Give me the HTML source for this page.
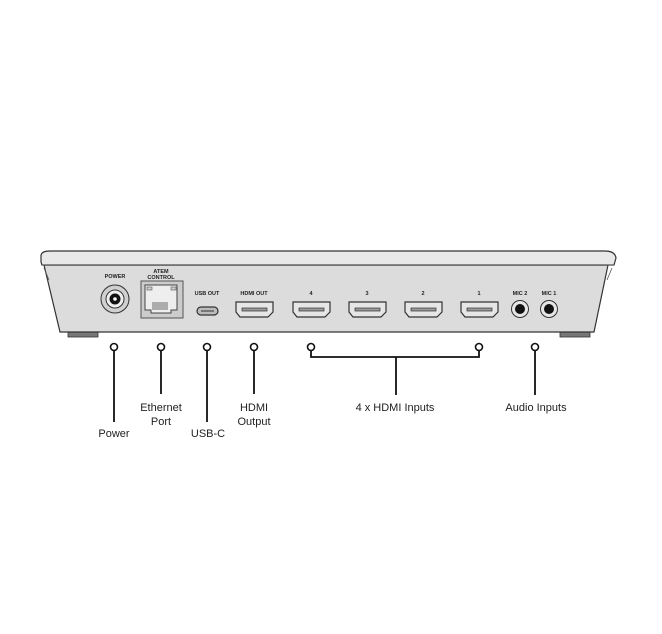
<!DOCTYPE html>
<html><head><style>
html,body{margin:0;padding:0;background:#fff;}
svg{display:block;}
text{font-family:"Liberation Sans",sans-serif;}
</style></head><body>
<svg width="662" height="634" viewBox="0 0 662 634" xmlns="http://www.w3.org/2000/svg">
<!-- feet -->
<rect x="68" y="331" width="30" height="6" fill="#777" stroke="#333" stroke-width="0.8"/>
<rect x="560" y="331" width="30" height="6" fill="#777" stroke="#333" stroke-width="0.8"/>
<!-- body -->
<path d="M44 265 L608 265 L594 332 L60 332 Z" fill="#dcdcdc" stroke="#333" stroke-width="1.2"/>
<!-- top lip -->
<path d="M41 256 Q41 251 50 251 L605 251 Q615 251 616 258 L614 265 L42 265 L41 262 Z" fill="#e8e8e8" stroke="#333" stroke-width="1.2"/>
<line x1="42" y1="265" x2="614" y2="265" stroke="#555" stroke-width="1"/>
<line x1="44" y1="268" x2="49" y2="280" stroke="#555" stroke-width="0.8"/>
<line x1="612" y1="268" x2="607" y2="280" stroke="#555" stroke-width="0.8"/>
<!-- labels on device -->
<g font-size="5.5" font-weight="bold" fill="#222" text-anchor="middle">
<text x="115" y="278">POWER</text>
<text x="161" y="273">ATEM</text>
<text x="161" y="279">CONTROL</text>
<text x="207" y="295">USB OUT</text>
<text x="254" y="295">HDMI OUT</text>
<text x="311" y="295">4</text>
<text x="367" y="295">3</text>
<text x="423" y="295">2</text>
<text x="479" y="295">1</text>
<text x="520" y="295">MIC 2</text>
<text x="549" y="295">MIC 1</text>
</g>
<!-- power -->
<circle cx="115" cy="299" r="14" fill="#d0d0d0" stroke="#333" stroke-width="1"/>
<circle cx="115" cy="299" r="9" fill="#eee" stroke="#333" stroke-width="1"/>
<circle cx="115" cy="299" r="5.5" fill="#111"/>
<circle cx="115" cy="299" r="1.8" fill="#fff"/>
<!-- ethernet -->
<rect x="141" y="281" width="42" height="37" fill="#ccc" stroke="#555" stroke-width="1"/>
<path d="M145 285 L177 285 L177 310 L171 310 L171 313 L151 313 L151 310 L145 310 Z" fill="#eee" stroke="#444" stroke-width="1"/>
<rect x="147" y="287" width="5" height="3" fill="#ccc" stroke="#555" stroke-width="0.6"/>
<rect x="171" y="287" width="5" height="3" fill="#ccc" stroke="#555" stroke-width="0.6"/>
<g stroke="#333" stroke-width="0.7">
<line x1="153" y1="302" x2="153" y2="310"/><line x1="155" y1="302" x2="155" y2="310"/><line x1="157" y1="302" x2="157" y2="310"/><line x1="159" y1="302" x2="159" y2="310"/><line x1="161" y1="302" x2="161" y2="310"/><line x1="163" y1="302" x2="163" y2="310"/><line x1="165" y1="302" x2="165" y2="310"/><line x1="167" y1="302" x2="167" y2="310"/>
</g>
<!-- usb-c -->
<rect x="197" y="307" width="21" height="8" rx="4" fill="#bbb" stroke="#333" stroke-width="1.2"/>
<line x1="201" y1="311" x2="214" y2="311" stroke="#333" stroke-width="1"/>
<!-- hdmi -->
<g fill="#e6e6e6" stroke="#333" stroke-width="1.2">
<path id="h" d="M236 302 L273 302 L273 312 L268 317 L240 317 L236 312 Z"/>
<path d="M293 302 L330 302 L330 312 L325 317 L297 317 L293 312 Z"/>
<path d="M349 302 L386 302 L386 312 L381 317 L353 317 L349 312 Z"/>
<path d="M405 302 L442 302 L442 312 L437 317 L409 317 L405 312 Z"/>
<path d="M461 302 L498 302 L498 312 L493 317 L465 317 L461 312 Z"/>
</g>
<g fill="#999" stroke="#333" stroke-width="0.7">
<rect x="242" y="308" width="25" height="3"/>
<rect x="299" y="308" width="25" height="3"/>
<rect x="355" y="308" width="25" height="3"/>
<rect x="411" y="308" width="25" height="3"/>
<rect x="467" y="308" width="25" height="3"/>
</g>
<!-- mics -->
<circle cx="520" cy="309" r="8.5" fill="#e6e6e6" stroke="#333" stroke-width="1"/>
<circle cx="520" cy="309" r="5" fill="#111"/>
<circle cx="549" cy="309" r="8.5" fill="#e6e6e6" stroke="#333" stroke-width="1"/>
<circle cx="549" cy="309" r="5" fill="#111"/>
<!-- connectors -->
<g stroke="#111" stroke-width="1.8" fill="none">
<line x1="114" y1="351" x2="114" y2="422"/>
<line x1="161" y1="351" x2="161" y2="394"/>
<line x1="207" y1="351" x2="207" y2="422"/>
<line x1="254" y1="351" x2="254" y2="394"/>
<polyline points="311,351 311,357 479,357 479,351"/>
<line x1="396" y1="357" x2="396" y2="395"/>
<line x1="535" y1="351" x2="535" y2="395"/>
</g>
<g stroke="#111" stroke-width="1.6" fill="#fff">
<circle cx="114" cy="347" r="3.5"/><circle cx="161" cy="347" r="3.5"/><circle cx="207" cy="347" r="3.5"/><circle cx="254" cy="347" r="3.5"/><circle cx="311" cy="347" r="3.5"/><circle cx="479" cy="347" r="3.5"/><circle cx="535" cy="347" r="3.5"/>
</g>
<g font-size="11" fill="#222" text-anchor="middle">
<text x="114" y="437">Power</text>
<text x="161" y="411">Ethernet</text>
<text x="161" y="425">Port</text>
<text x="208" y="437">USB-C</text>
<text x="254" y="411">HDMI</text>
<text x="254" y="425">Output</text>
<text x="395" y="411">4 x HDMI Inputs</text>
<text x="536" y="411">Audio Inputs</text>
</g>
</svg>
</body></html>
